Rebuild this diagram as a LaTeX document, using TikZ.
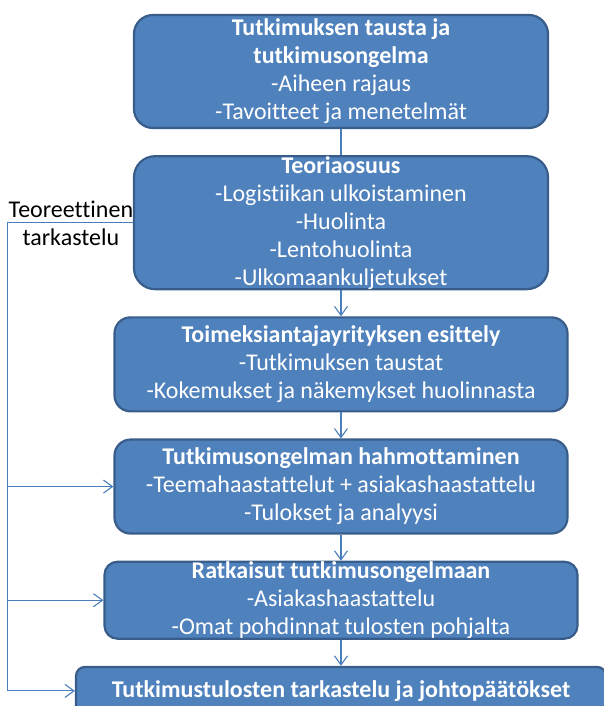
\documentclass[tikz,border=0pt]{standalone}
\usepackage{fontspec}
\setmainfont{Carlito}[Ligatures=CommonOff]
\usetikzlibrary{positioning,backgrounds,arrows.meta}
\definecolor{boxfill}{HTML}{4F81BD}
\definecolor{boxedge}{HTML}{385D8A}
\definecolor{linkcol}{HTML}{4A7EBB}

\begin{document}
\begin{tikzpicture}[node distance=26pt,
    phase/.style={draw=boxedge,fill=boxfill,line width=2.2pt,rounded corners=16pt,
      text=white,align=center,inner sep=0pt,font=\fontsize{24}{28}\selectfont},
    link/.style={draw=linkcol,line width=1.1pt},
    >={Straight Barb[length=9pt,width=13pt]}]

  \path[use as bounding box] (0pt,0pt) rectangle (604pt,-706pt);

  % main chain of phases
  \node[phase,minimum width=414pt,minimum height=113pt,rounded corners=19pt]
      (tausta) at (341pt,-71.5pt)
      {\textbf{Tutkimuksen tausta ja}\\ \textbf{tutkimusongelma}\\ -Aiheen rajaus\\ -Tavoitteet ja menetelmät};
  \node[phase,minimum width=414pt,minimum height=132pt,rounded corners=21pt]
      (teoria) [below=of tausta]
      {\textbf{Teoriaosuus}\\ -Logistiikan ulkoistaminen\\ -Huolinta\\ -Lentohuolinta\\ -Ulkomaankuljetukset};
  \node[phase,minimum width=453pt,minimum height=94pt]
      (esittely) [below=of teoria]
      {\textbf{Toimeksiantajayrityksen esittely}\\ -Tutkimuksen taustat\\ -Kokemukset ja näkemykset huolinnasta};
  \node[phase,minimum width=453pt,minimum height=94pt]
      (hahmotus) [below=of esittely]
      {\textbf{Tutkimusongelman hahmottaminen}\\ -Teemahaastattelut + asiakashaastattelu\\ -Tulokset ja analyysi};
  \node[phase,minimum width=473pt,minimum height=76pt,rounded corners=13pt]
      (ratkaisut) [below=of hahmotus]
      {\textbf{Ratkaisut tutkimusongelmaan}\\ -Asiakashaastattelu\\ -Omat pohdinnat tulosten pohjalta};
  \node[phase,minimum width=530pt,minimum height=48pt,rounded corners=9pt]
      (johto) [below=of ratkaisut]
      {\textbf{Tutkimustulosten tarkastelu ja johtopäätökset}};

  \begin{scope}[on background layer]
    \node[align=center,inner sep=0pt,font=\fontsize{24}{28}\selectfont]
        (tarkastelu) at ([xshift=-62pt,yshift=-1pt]teoria.west) {Teoreettinen\\ tarkastelu};
  \end{scope}

  \path[link] (tausta) -- (teoria);
  \path[link] (teoria) edge[->] (esittely)
              (esittely) edge[->] (hahmotus)
              (hahmotus) edge[->] (ratkaisut)
              (ratkaisut) edge[->] (johto);

  % side rail
  \coordinate (railtop) at ([xshift=-125pt]teoria.west);
  \coordinate (railbot) at (railtop |- johto.west);
  \path[link] (teoria.west) -- (railtop) -- (railbot);
  \path[link] (railbot) edge[->] (johto.west)
              (railtop |- hahmotus.west) edge[->] (hahmotus.west)
              (railtop |- ratkaisut.west) edge[->] (ratkaisut.west);
\end{tikzpicture}
\end{document}
